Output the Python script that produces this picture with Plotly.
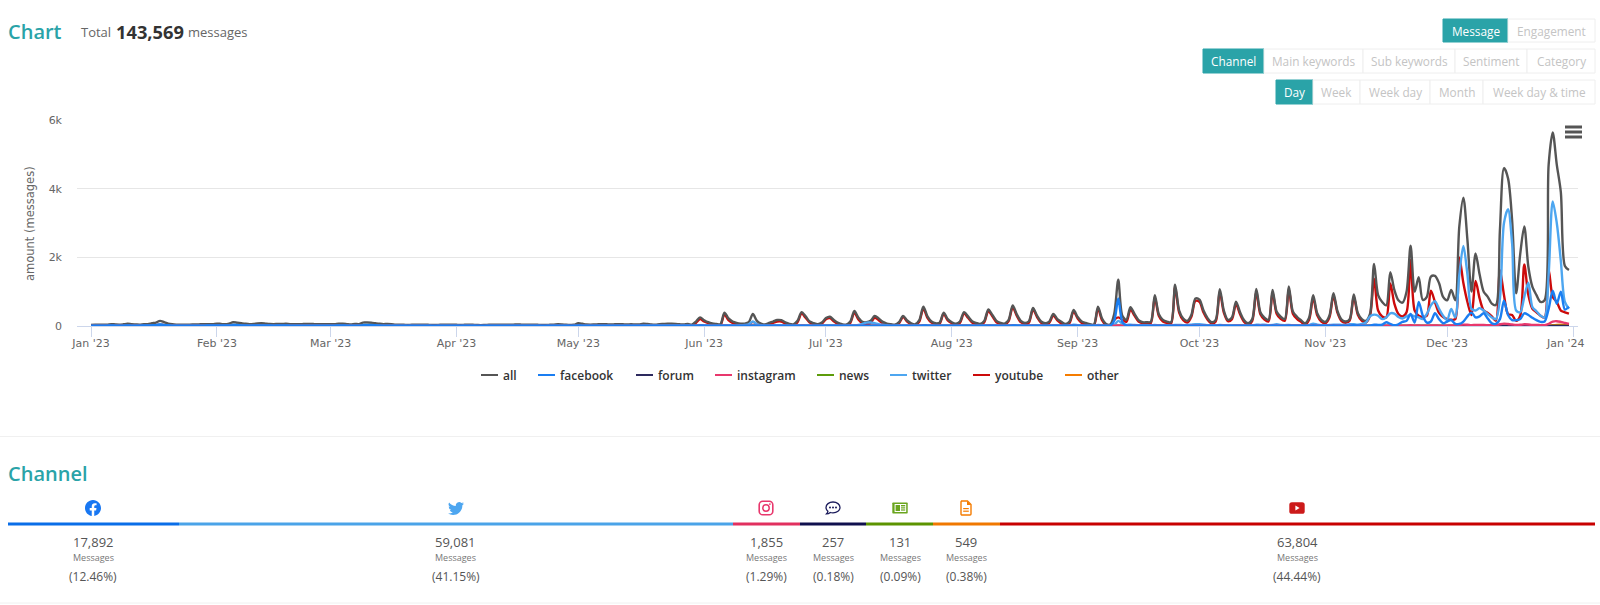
import base64
import pandas as pd
import plotly.graph_objects as go

W = 1600
H = 605

TEAL = "#2aa3a8"
GREY_TXT = "#666666"

# daily message counts, one row per month, 2023
ALL_MSGS = [
    30,35,40,35,40,55,45,40,50,65,50,45,40,50,55,80,100,150,110,70,50,40,35,35,40,45,45,50,50,55,55,
    70,60,50,70,110,95,80,65,55,60,75,80,70,60,55,60,60,65,55,55,50,55,60,60,55,50,55,50,
    55,50,70,65,55,45,60,55,100,100,95,80,65,55,60,55,40,35,35,30,35,35,40,40,35,30,30,35,35,40,40,
    35,30,35,40,35,30,25,30,35,40,40,35,35,40,40,45,40,35,40,40,35,30,30,35,40,50,45,35,30,35,
    80,65,45,40,45,50,55,50,45,50,55,50,45,50,45,45,70,60,45,40,55,60,65,65,60,50,45,60,40,130,250,
    170,110,75,60,50,390,220,130,90,70,70,110,350,150,70,45,90,130,175,170,110,60,50,150,405,280,130,80,50,100,
    230,270,170,90,50,40,130,435,240,120,110,150,290,220,120,70,50,40,110,290,160,80,50,170,560,280,130,80,100,390,200,
    110,70,130,405,280,140,90,60,150,485,320,150,90,70,180,600,340,150,90,140,525,300,130,80,130,350,200,120,60,130,465,
    260,130,90,50,40,565,220,60,40,350,1345,300,180,545,350,170,110,110,120,900,340,180,130,110,1200,450,220,150,320,800,
    770,450,230,110,180,1075,450,180,250,710,400,170,80,200,1080,400,240,180,1050,420,270,200,1150,420,270,170,80,240,900,370,180,
    120,300,955,430,190,130,200,920,380,200,150,350,1805,900,700,600,1570,1050,750,680,1000,2340,1000,1420,760,850,1440,1460,1250,850,
    750,1050,750,2900,3740,2500,1000,2110,1500,1000,850,650,610,2800,4600,4300,3080,950,2100,2900,1725,1140,900,700,750,4700,5640,4700,3900,1750,1630,
]
FACEBOOK = [
    10,10,12,10,12,15,12,10,12,15,12,12,10,15,15,20,25,35,25,20,12,10,10,10,10,12,12,12,12,15,15,
    15,15,15,15,25,22,18,15,12,15,15,15,15,15,12,15,15,15,12,12,12,12,12,12,12,12,12,12,
    12,12,15,15,12,10,12,12,25,25,25,20,15,12,12,12,10,8,8,8,8,8,10,10,8,8,8,8,8,10,10,
    10,8,8,10,8,8,8,8,8,10,10,8,8,10,10,10,10,8,10,10,8,8,8,8,10,12,10,8,8,8,
    15,12,10,8,8,10,10,10,10,10,10,10,8,10,8,10,10,10,8,8,10,10,10,10,10,10,8,10,8,10,15,
    12,10,10,10,8,12,12,10,10,8,8,10,15,10,8,8,8,8,10,10,8,8,8,8,12,10,8,8,8,8,
    10,12,10,8,8,8,8,12,10,10,10,10,10,10,8,8,8,8,8,10,8,8,8,8,15,12,8,8,8,10,10,
    8,8,8,12,10,8,8,8,8,12,10,8,8,8,10,15,12,8,8,8,12,10,8,8,8,12,10,8,8,8,15,
    10,8,8,8,8,12,10,8,8,150,800,120,15,15,10,10,8,8,8,12,10,8,8,8,15,10,8,8,10,12,
    12,10,8,8,8,15,10,8,8,12,10,8,8,8,15,10,8,8,15,10,8,8,15,10,8,8,8,8,15,10,8,
    8,8,15,10,10,8,8,25,15,10,10,10,40,30,40,110,60,20,50,120,150,350,100,700,300,100,130,370,200,80,
    130,175,60,60,130,280,390,250,280,370,220,80,60,200,740,320,170,170,200,370,320,240,170,120,130,500,1030,650,1000,480,560,
]
FORUM = [
    0,0,1,0,0,1,0,0,1,1,0,0,0,1,1,1,1,2,1,1,0,0,0,0,0,1,0,1,0,1,1,
    1,1,0,1,2,1,1,1,0,1,1,1,1,0,0,1,1,1,0,0,0,1,1,1,0,0,1,0,
    1,0,1,1,0,0,1,0,2,1,1,1,1,0,1,0,0,0,0,0,0,0,1,1,0,0,0,0,0,1,1,
    0,0,0,1,0,0,0,0,0,1,1,0,0,1,1,1,1,0,1,1,0,0,0,0,1,1,1,0,0,0,
    1,1,0,0,0,1,1,1,0,1,1,1,0,1,0,0,1,1,0,0,1,1,1,1,1,1,0,1,0,1,1,
    1,1,0,0,0,1,1,1,0,0,0,0,1,1,0,0,0,1,1,1,1,0,0,0,1,1,1,0,0,0,
    1,1,1,0,0,0,0,1,1,1,1,1,1,1,0,0,0,0,0,1,1,0,0,0,1,1,1,0,0,1,1,
    0,0,0,1,1,1,0,0,0,1,1,1,0,0,0,1,1,1,0,0,1,1,1,0,0,0,1,1,0,0,1,
    1,0,0,0,0,1,1,0,0,1,2,1,1,1,1,0,0,0,0,1,1,1,0,0,1,1,1,0,0,1,
    1,1,0,0,0,1,1,0,0,1,1,0,0,0,1,1,1,0,1,1,1,0,1,1,1,0,0,0,0,1,1,
    0,0,1,1,0,0,0,1,1,0,0,0,2,1,1,1,2,1,1,1,1,2,1,1,1,1,2,2,1,1,
    1,1,1,2,3,2,2,2,2,2,1,1,1,3,4,3,2,2,2,3,2,2,1,1,1,3,4,4,3,2,2,
]
INSTAGRAM = [
    2,3,2,2,3,3,2,2,3,4,3,2,2,3,3,4,5,8,5,3,2,2,2,2,2,3,3,3,3,3,3,
    3,3,2,3,5,4,3,3,2,3,3,3,3,2,2,3,3,3,2,2,2,2,3,3,2,2,2,2,
    2,2,3,3,2,2,3,2,5,5,4,3,3,2,3,2,2,2,2,1,2,2,2,2,2,1,1,2,2,2,2,
    2,1,2,2,2,1,1,1,2,2,2,2,2,2,2,2,2,2,2,2,2,1,1,2,2,3,2,2,1,2,
    3,3,2,2,2,2,3,2,2,2,3,2,2,2,2,2,3,3,2,2,3,3,3,3,3,3,2,3,2,4,6,
    5,4,3,3,2,6,5,4,3,3,3,3,5,4,3,2,3,4,4,4,3,3,2,3,6,5,4,3,3,3,
    4,5,4,3,3,2,3,6,5,4,4,5,6,5,4,3,3,2,3,5,4,3,3,4,8,5,4,3,3,5,4,
    3,3,4,6,5,4,3,3,4,6,5,4,3,3,4,8,5,4,3,4,7,5,4,3,4,6,5,4,3,4,7,
    5,4,3,3,2,8,5,3,3,6,15,6,5,8,6,5,4,4,4,10,6,5,4,4,12,8,5,4,6,10,
    10,8,5,4,4,12,8,5,5,8,6,5,4,5,12,8,6,5,12,8,6,5,12,8,6,5,4,5,10,8,5,
    5,6,10,8,5,5,6,10,8,6,5,6,15,10,8,8,15,10,8,8,10,20,12,15,10,10,15,15,12,10,
    12,15,15,30,40,35,25,30,30,30,25,20,20,50,70,60,45,30,35,50,45,30,30,25,25,60,130,140,120,90,60,
]
NEWS = [
    0,0,0,0,1,0,0,0,0,1,0,0,0,0,1,0,1,1,1,0,0,0,0,0,0,0,1,0,0,0,1,
    0,0,0,1,1,0,1,0,0,0,1,0,0,0,0,0,1,0,0,0,0,0,1,0,0,0,0,0,
    0,0,1,0,0,0,0,0,1,1,0,0,1,0,0,0,0,0,0,0,0,0,1,0,0,0,0,0,0,0,1,
    0,0,0,0,0,0,0,0,0,1,0,0,0,0,1,0,0,0,0,1,0,0,0,0,0,1,0,0,0,0,
    1,0,0,0,0,0,1,0,0,0,0,1,0,0,0,0,1,0,0,0,0,1,0,0,0,0,0,1,0,0,1,
    0,0,0,1,0,0,1,0,0,0,0,0,1,0,0,0,0,1,0,0,0,1,0,0,1,0,0,0,0,0,
    1,0,0,0,0,0,0,1,0,0,0,1,0,0,0,0,0,0,0,1,0,0,0,0,1,0,0,0,0,1,0,
    0,0,0,1,0,0,0,0,0,1,0,0,0,0,0,1,0,0,0,0,1,0,0,0,0,1,0,0,0,0,1,
    0,0,0,0,0,1,0,0,0,0,1,0,0,1,0,0,0,0,0,1,0,0,0,0,1,0,0,0,0,1,
    1,0,0,0,0,1,0,0,0,1,0,0,0,0,1,0,0,0,1,0,0,0,1,0,0,0,0,0,0,1,0,
    0,0,1,0,0,0,0,1,0,0,0,0,1,1,0,0,1,0,0,0,0,1,0,1,0,0,1,1,0,0,
    0,1,0,1,1,1,0,1,0,0,0,0,0,1,1,1,0,0,1,1,0,0,0,0,0,1,1,1,1,0,1,
]
TWITTER = [
    5,6,6,6,6,8,6,6,8,10,8,6,6,8,8,15,25,50,30,15,8,6,6,6,6,8,8,8,8,8,8,
    12,10,8,12,35,28,20,12,10,10,15,15,12,10,8,10,10,10,8,8,8,8,10,10,8,8,8,8,
    8,8,12,10,8,8,10,8,30,30,28,20,12,10,10,10,8,6,6,5,6,6,6,6,6,5,5,6,6,6,6,
    6,5,6,6,6,5,4,5,6,6,6,6,6,6,6,8,6,6,6,6,6,5,5,6,6,8,8,6,5,6,
    12,10,8,6,8,8,8,8,8,8,8,8,8,8,8,8,15,15,15,15,15,15,15,15,15,15,15,15,10,15,25,
    20,15,12,12,10,20,25,20,15,20,30,50,130,50,20,15,15,20,20,20,15,12,10,15,20,15,12,10,10,15,
    15,20,15,12,10,10,15,20,30,60,100,100,80,50,35,20,12,10,15,15,15,10,10,15,25,20,15,12,10,15,12,
    10,10,12,15,15,12,10,10,15,20,20,15,12,10,15,25,20,15,10,12,15,15,12,10,12,25,20,12,10,20,35,
    25,15,12,10,8,30,20,12,10,30,150,60,30,40,30,25,20,20,20,30,20,20,15,15,30,30,25,30,40,50,
    50,40,25,15,15,30,25,15,15,25,20,15,10,15,40,30,40,25,30,50,30,25,30,25,20,15,10,25,70,40,25,
    20,30,40,40,30,30,50,50,40,60,100,280,330,300,200,250,370,360,260,220,280,320,280,250,200,350,600,720,500,300,
    180,500,250,1500,2330,1500,500,450,520,450,350,250,200,800,3000,3400,2400,450,400,850,1260,550,430,300,250,1500,3630,3000,1900,700,500,
]
YOUTUBE = [
    5,8,10,8,10,15,10,8,12,20,12,10,8,12,15,25,30,45,30,20,12,10,8,8,10,12,12,15,15,15,15,
    20,15,12,20,30,25,20,15,12,15,20,20,18,15,12,15,15,18,12,12,10,12,15,15,12,10,12,10,
    12,10,18,15,12,10,15,12,25,25,22,20,15,12,15,12,10,8,8,6,8,8,10,10,8,6,6,8,8,10,10,
    8,6,8,10,8,6,5,6,8,10,10,8,8,10,10,12,10,8,10,10,8,6,6,8,10,12,10,8,6,8,
    20,15,10,8,10,12,15,12,10,12,15,12,10,12,10,10,40,30,15,10,25,30,35,35,30,20,15,30,15,90,200,
    130,80,40,25,15,340,170,90,50,25,15,30,120,50,20,10,50,90,130,130,70,30,15,110,360,240,100,50,20,70,
    200,230,130,60,25,15,90,390,190,80,50,90,240,170,80,40,20,15,80,260,130,50,25,130,510,240,100,50,70,350,160,
    80,40,90,360,240,100,60,30,110,440,280,110,55,35,140,550,300,110,55,100,480,260,90,45,90,310,160,70,25,90,420,
    220,90,50,20,10,510,170,25,15,180,250,180,120,480,300,130,80,70,80,830,290,130,90,70,1130,390,170,100,270,730,
    700,390,180,70,130,1000,390,140,200,640,340,120,40,150,1000,340,190,130,980,360,210,150,1070,360,210,120,40,180,820,310,130,
    80,250,880,380,140,90,160,850,330,150,100,300,1375,450,280,250,1240,650,350,280,400,1920,450,300,260,300,1030,700,380,260,
    200,180,200,2000,1250,700,320,1310,800,450,380,280,150,1630,900,350,320,150,300,1790,900,500,400,300,250,1650,850,700,450,400,360,
]
OTHER = [
    1,1,1,1,1,1,1,1,1,2,1,1,1,1,1,2,2,3,2,1,1,1,1,1,1,1,1,1,1,1,1,
    1,1,1,1,2,2,1,1,1,1,1,1,1,1,1,1,1,1,1,1,1,1,1,1,1,1,1,1,
    1,1,1,1,1,1,1,1,2,2,2,1,1,1,1,1,1,1,1,1,1,1,1,1,1,1,1,1,1,1,1,
    1,1,1,1,1,1,1,1,1,1,1,1,1,1,1,1,1,1,1,1,1,1,1,1,1,1,1,1,1,1,
    1,1,1,1,1,1,1,1,1,1,1,1,1,1,1,1,1,1,1,1,1,1,1,1,1,1,1,1,1,1,2,
    1,1,1,1,1,2,1,1,1,1,1,1,2,1,1,1,1,1,1,1,1,1,1,1,2,1,1,1,1,1,
    1,1,1,1,1,1,1,2,1,1,1,1,1,1,1,1,1,1,1,1,1,1,1,1,2,1,1,1,1,1,1,
    1,1,1,2,1,1,1,1,1,2,1,1,1,1,1,2,1,1,1,1,2,1,1,1,1,1,1,1,1,1,2,
    1,1,1,1,1,2,1,1,1,1,3,1,1,2,1,1,1,1,1,2,1,1,1,1,2,1,1,1,1,2,
    2,1,1,1,1,2,1,1,1,1,1,1,1,1,2,1,1,1,2,1,1,1,2,1,1,1,1,1,2,1,1,
    1,1,2,1,1,1,1,2,1,1,1,1,3,2,2,2,3,2,2,2,2,4,2,2,2,2,3,3,2,2,
    2,2,2,4,5,4,3,3,3,3,2,2,2,5,6,5,4,3,4,5,4,3,2,2,2,6,20,30,35,30,25,
]

SERIES_NAMES = ["all", "facebook", "forum", "instagram", "news", "twitter", "youtube", "other"]
SERIES_COLORS = ["#555555", "#1a7ef2", "#2d2a5e", "#e8386d", "#5d9c0b", "#4da6f0", "#cc0a0a", "#f57c00"]
SERIES_VALUES = [ALL_MSGS, FACEBOOK, FORUM, INSTAGRAM, NEWS, TWITTER, YOUTUBE, OTHER]
# later in this list = drawn on top
DRAW_ORDER = ["other", "news", "forum", "youtube", "all", "twitter", "instagram", "facebook"]
# left end of each legend swatch, the short swatch is why the legend is hand placed
LEGEND_LEFT = [481, 538, 636, 715, 817, 890, 973, 1065]

MONTH_TICKS = ["2023-01-01", "2023-02-01", "2023-03-01", "2023-04-01", "2023-05-01", "2023-06-01", "2023-07-01",
               "2023-08-01", "2023-09-01", "2023-10-01", "2023-11-01", "2023-12-01", "2024-01-01"]
MONTH_LABELS = ["Jan '23", "Feb '23", "Mar '23", "Apr '23", "May '23", "Jun '23", "Jul '23",
                "Aug '23", "Sep '23", "Oct '23", "Nov '23", "Dec '23", "Jan '24"]
Y_TICKS = [0, 2000, 4000, 6000]
Y_LABELS = ["0", "2k", "4k", "6k"]

# channel strip at the bottom
CH_KEYS = ["facebook", "twitter", "instagram", "forum", "news", "other", "youtube"]
CH_COUNTS = ["17,892", "59,081", "1,855", "257", "131", "549", "63,804"]
CH_PCTS = ["(12.46%)", "(41.15%)", "(1.29%)", "(0.18%)", "(0.09%)", "(0.38%)", "(44.44%)"]
CH_COLORS = ["#0a6ee8", "#4aa3e8", "#e1305f", "#10104e", "#5c9400", "#f07800", "#c80000"]
CH_EDGES = [8, 179, 733, 800, 866, 933, 1000, 1595]
CH_CENTERS = [93, 456, 766, 833, 900, 966, 1297]

# button rows: (label, left, right)
BTN_ROWS = [
    (19, 42, [("Message", 1443, 1508), ("Engagement", 1508, 1595)]),
    (49, 73, [("Channel", 1203, 1264), ("Main keywords", 1264, 1363), ("Sub keywords", 1363, 1455),
              ("Sentiment", 1455, 1527), ("Category", 1527, 1595)]),
    (80, 104, [("Day", 1276, 1313), ("Week", 1313, 1360), ("Week day", 1360, 1430),
               ("Month", 1430, 1483), ("Week day & time", 1483, 1595)]),
]


def svg_uri(body):
    svg = '<svg xmlns="http://www.w3.org/2000/svg" viewBox="0 0 16 16">' + body + "</svg>"
    return "data:image/svg+xml;base64," + base64.b64encode(svg.encode()).decode()


ICONS = {
    "facebook": '<path fill="#1877f2" d="M16 8.049c0-4.446-3.582-8.05-8-8.05C3.58 0-.002 3.603-.002 8.05c0 4.017 2.926 7.347 6.75 7.951v-5.625h-2.03V8.05H6.75V6.275c0-2.017 1.195-3.131 3.022-3.131.876 0 1.791.157 1.791.157v1.98h-1.009c-.993 0-1.303.621-1.303 1.258v1.51h2.218l-.354 2.326H9.25V16c3.824-.604 6.75-3.934 6.75-7.951z"/>',
    "twitter": '<path fill="#4da6f0" d="M5.026 15c6.038 0 9.341-5.003 9.341-9.334 0-.14 0-.282-.006-.422A6.685 6.685 0 0 0 16 3.542a6.658 6.658 0 0 1-1.889.518 3.301 3.301 0 0 0 1.447-1.817 6.533 6.533 0 0 1-2.087.793A3.286 3.286 0 0 0 7.875 6.03a9.325 9.325 0 0 1-6.767-3.429 3.289 3.289 0 0 0 1.018 4.382A3.323 3.323 0 0 1 .64 6.575v.045a3.288 3.288 0 0 0 2.632 3.218 3.203 3.203 0 0 1-.865.115 3.23 3.23 0 0 1-.614-.057 3.283 3.283 0 0 0 3.067 2.277A6.588 6.588 0 0 1 .78 13.58a6.32 6.32 0 0 1-.78-.045A9.344 9.344 0 0 0 5.026 15z"/>',
    "instagram": '<rect x="1.2" y="1.2" width="13.6" height="13.6" rx="3.6" fill="none" stroke="#e8386d" stroke-width="1.6"/><circle cx="8" cy="8" r="3.2" fill="none" stroke="#e8386d" stroke-width="1.5"/><circle cx="11.9" cy="4.1" r="0.9" fill="#e8386d"/>',
    "forum": '<path fill="none" stroke="#1c1c5c" stroke-width="1.3" d="M8 2C4 2 1 4.5 1 7.5c0 1.5.7 2.8 1.9 3.8-.2 1-.8 1.9-1.5 2.6 1.5 0 2.9-.6 3.9-1.4 .8.3 1.7.4 2.7.4 4 0 7-2.4 7-5.4S12 2 8 2z"/><circle cx="5" cy="7.5" r="1" fill="#1c1c5c"/><circle cx="8" cy="7.5" r="1" fill="#1c1c5c"/><circle cx="11" cy="7.5" r="1" fill="#1c1c5c"/>',
    "news": '<rect x="0.3" y="2.5" width="15.4" height="11" rx="0.8" fill="#6aa51e"/><rect x="2.6" y="4" width="11.6" height="8" fill="#fff"/><rect x="3.6" y="5" width="4.4" height="6" fill="#6aa51e"/><rect x="9" y="5" width="4.2" height="1.4" fill="#6aa51e"/><rect x="9" y="7.3" width="4.2" height="1.2" fill="#6aa51e"/><rect x="9" y="9.4" width="4.2" height="1.2" fill="#6aa51e"/>',
    "other": '<path fill="none" stroke="#f57c00" stroke-width="1.4" d="M3 1h6.5L13 4.5V14a1 1 0 0 1-1 1H4a1 1 0 0 1-1-1V2a1 1 0 0 1 1-1z"/><path fill="#f57c00" d="M9 1l4 4H9z"/><rect x="5.2" y="8" width="5.6" height="1.2" fill="#f57c00"/><rect x="5.2" y="10.6" width="5.6" height="1.2" fill="#f57c00"/>',
    "youtube": '<rect x="0.3" y="2.2" width="15.4" height="11.6" rx="2.6" fill="#cc1a1a"/><path fill="#fff" d="M6.4 5.6v4.8L10.6 8z"/>',
}


def px(x):
    return x / W


def py(y):
    return 1 - y / H


def text(fig, x, y, s, size, color, anchor="center", font="Open Sans", weight=None, angle=0):
    f = dict(family=font, size=size, color=color)
    if weight:
        f["weight"] = weight
    fig.add_annotation(x=px(x), y=py(y), xref="paper", yref="paper", text=s, showarrow=False,
                       xanchor=anchor, yanchor="middle", font=f, textangle=angle)


def box(fig, x0, y0, x1, y1, fill, line=None):
    fig.add_shape(type="rect", xref="paper", yref="paper", x0=px(x0), x1=px(x1), y0=py(y0), y1=py(y1),
                  fillcolor=fill, line=dict(color=line or fill, width=1 if line else 0), layer="below")


dates = pd.date_range("2023-01-01", periods=365)
assert all(len(v) == 365 for v in SERIES_VALUES), [len(v) for v in SERIES_VALUES]

fig = go.Figure()
for name in DRAW_ORDER:
    i = SERIES_NAMES.index(name)
    fig.add_trace(go.Scatter(
        x=dates,
        y=SERIES_VALUES[i],
        mode="lines",
        name=name,
        showlegend=False,
        line=dict(color=SERIES_COLORS[i], width=2.4, shape="spline", smoothing=0.85),
        cliponaxis=False,
        hoverinfo="x+y+name",
    ))

# automargin off: the default template turns it on and it squeezes every paper coordinate
fig.update_layout(
    width=W,
    height=H,
    autosize=False,
    margin=dict(l=0, r=0, t=0, b=0),
    paper_bgcolor="white",
    plot_bgcolor="white",
    font=dict(family="DejaVu Sans", color=GREY_TXT),
    xaxis=dict(
        automargin=False,
        domain=[px(77), px(1578)],
        type="date",
        range=["2022-12-28 13:00", "2024-01-02 05:30"],
        tickvals=MONTH_TICKS,
        # last label sits left of its tick in the original, placed by hand below
        ticktext=MONTH_LABELS[:-1] + [""],
        tickfont=dict(size=11, color=GREY_TXT),
        ticks="outside",
        ticklen=10,
        tickcolor="#ccd6eb",
        ticklabelstandoff=-3,
        showline=True,
        linecolor="#ccd6eb",
        showgrid=False,
        zeroline=False,
    ),
    yaxis=dict(
        automargin=False,
        domain=[py(326), py(120)],
        range=[0, 6000],
        tickvals=Y_TICKS,
        ticktext=Y_LABELS,
        tickfont=dict(size=11, color=GREY_TXT),
        ticklabelstandoff=14,
        gridcolor="#e6e6e6",
        showline=False,
        zeroline=False,
    ),
)
text(fig, 1565, 343, MONTH_LABELS[-1], 11, GREY_TXT, font="DejaVu Sans")

# header
text(fig, 6, 31, "Chart", 20, TEAL, anchor="left", weight=600)
text(fig, 79, 32, "Total", 13, "#666666", anchor="left")
text(fig, 113.5, 31, "143,569", 18.3, "#333333", anchor="left", weight=700)
text(fig, 186, 32, "messages", 13, "#666666", anchor="left")
text(fig, 30, 224, "amount (messages)", 11.5, GREY_TXT, font="DejaVu Sans", angle=-90)

# legend
for i, name in enumerate(SERIES_NAMES):
    left = LEGEND_LEFT[i]
    fig.add_shape(type="line", xref="paper", yref="paper", x0=px(left), x1=px(left + 17), y0=py(375), y1=py(375),
                  line=dict(color=SERIES_COLORS[i], width=2))
    text(fig, left + 20, 375, name, 12, "#333333", anchor="left", weight=600)

# buttons
for y0, y1, row in BTN_ROWS:
    for j, (label, x0, x1) in enumerate(row):
        active = j == 0
        box(fig, x0, y0, x1, y1, TEAL if active else "white", line=TEAL if active else "#eeeeee")
        text(fig, (x0 + x1) / 2, (y0 + y1) / 2, label, 11.8, "white" if active else "#c4c4c4")

# hamburger menu
for y in [127, 132, 137]:
    fig.add_shape(type="line", xref="paper", yref="paper", x0=px(1565), x1=px(1582), y0=py(y), y1=py(y),
                  line=dict(color="#555555", width=3))

# channel strip
for y in [436.5, 603]:
    fig.add_shape(type="line", xref="paper", yref="paper", x0=0, x1=1, y0=py(y), y1=py(y),
                  line=dict(color="#f0f0f0", width=1))
text(fig, 6, 473, "Channel", 20, TEAL, anchor="left", weight=600)
for j, key in enumerate(CH_KEYS):
    box(fig, CH_EDGES[j], 522.5, CH_EDGES[j + 1], 525.5, CH_COLORS[j])
    cx = CH_CENTERS[j]
    fig.add_layout_image(source=svg_uri(ICONS[key]), xref="paper", yref="paper", x=px(cx), y=py(508),
                         sizex=16 / W, sizey=16 / H, xanchor="center", yanchor="middle", sizing="contain",
                         layer="above")
    text(fig, cx, 542, CH_COUNTS[j], 13, "#555555")
    text(fig, cx, 557.5, "Messages", 9, "#777777")
    text(fig, cx, 576, CH_PCTS[j], 12, "#555555")

# page default margin would push the figure off the 1600x605 window
fig.write_html(
    "out.html",
    config={"displayModeBar": False},
    post_script="document.body.style.margin='0';document.body.style.overflow='hidden';",
)
